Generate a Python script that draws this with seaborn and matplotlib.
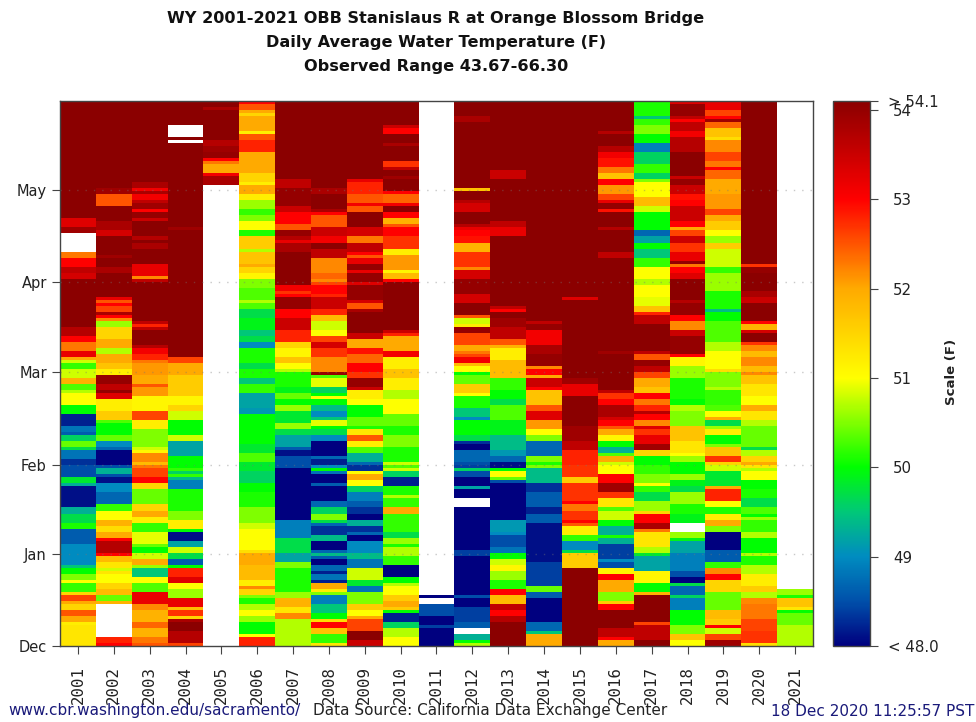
import numpy as np
import pandas as pd
import matplotlib
matplotlib.use("Agg")
import matplotlib.pyplot as plt
import matplotlib.transforms as mtrans
from matplotlib.colors import LinearSegmentedColormap
import seaborn as sns

N = float("nan")
D = 54.1

# Each list: (upper edge in days since Dec 1, temperature F) read top to bottom; N = no data
WY2001 = [(181,D),(142,53.3),(139,53.9),(137,N),(131,52.3),(129,53),(126,53.6),(124.5,53.4),(122,D),(106,53.7),(103,53),(101,52.3),(98,53.2),(96,52),(95,50.8),(94,50.2),(92,50.8),(89,51.9),(87,50.3),(85,50.7),(84,51),(80,50),(77,48.2),(73,48.8),(71,48.6),(69.5,49.6),(68,50.4),(66,49.7),(65,48.8),(62,48.3),(60,48.5),(55.5,49.8),(54,49.3),(53,48.1),(46,49.3),(44,49.7),(41,50.1),(39,48.6),(34,49),(27,49.5),(26,50),(24,50.5),(22,51),(21,50.2),(18.5,51.5),(17,52.6),(15,52),(14,51.5),(12,52.5),(10,52),(8,51.2),(7,51.3)]
WY2002 = [(181,D),(152,53.9),(150.4,52.5),(146,D),(141,53.8),(138,53.4),(136,D),(129.4,53.9),(128.6,D),(126,53.8),(124.5,D),(116,53.2),(115,52.5),(113.5,53),(113,52.6),(111,53.8),(110,53),(109,52.2),(108,50.6),(106,51.5),(102,52),(99,50.7),(97,52),(94,51.7),(92,51.2),(90,54),(87,53.6),(85,54),(84,53.3),(81.5,51.2),(77.6,51.6),(75,50.3),(73.5,50),(70.4,50.4),(68.4,49),(66.2,48.7),(64.7,48),(60.5,48.5),(58.6,49.3),(56.6,48.5),(55.7,48.1),(53.5,49),(51,48.7),(46.6,50.2),(44.7,51),(41.7,51.9),(39.8,51.4),(37.8,52),(36.2,53),(34.8,53.7),(31,53),(30,51.8),(28.4,51.3),(25.7,50.8),(24.8,51.3),(23.5,51),(20.7,51.5),(18.9,51.8),(17.4,50.4),(15.2,51.9),(14.1,N),(3.4,52.8),(1.4,53)]
WY2003 = [(181,D),(154.3,53.8),(152.4,53.1),(151,53.8),(149.7,53.1),(148.2,53.6),(147,53.9),(145.4,53),(143.5,54),(142.4,53.5),(140.7,D),(136.3,53.7),(134.4,D),(133.8,53.8),(131.6,D),(126.7,53.2),(122.8,52.2),(121.7,53.6),(120.6,D),(108.5,53.6),(107.4,52.8),(106,53.6),(104.9,D),(100.2,53.7),(98.6,53.1),(96.9,52.8),(95.3,52.3),(93.6,52.1),(89.7,52),(87,52.5),(86,52.1),(83.4,51.1),(78.2,52.6),(74.6,51.2),(72.4,50.5),(66.2,50.8),(64.5,51.1),(63.6,52.2),(61.3,51.8),(60,52.3),(58.6,52.6),(55.5,53),(54.2,51.5),(52.2,50.4),(46.6,51.5),(44.7,52),(42.8,51.2),(40.9,50.2),(37.8,50.9),(34.5,50.4),(32.8,50),(31,50.8),(29.2,52),(27.3,50.6),(26,49.5),(23,51),(21,50.3),(18.2,53.2),(14.1,52.2),(11.9,51.9),(8.3,52.4),(6.4,51.9),(3,52.3),(1.4,52.5)]
WY2004 = [(181,D),(173.3,N),(169.2,D),(168,N),(167.2,D),(138.4,53.9),(137.6,D),(96,52.6),(94.2,52),(90.3,51.6),(82.6,51.1),(80.1,51.5),(77.9,50.8),(75.4,50),(69.5,50.8),(68.2,49.2),(62.7,50),(58.3,50.2),(58.2,49.6),(57.2,50.2),(56,49.4),(54.6,48.9),(51.6,50.1),(45,50.5),(41.7,51.2),(38.9,50),(37.6,48.1),(35.1,49.2),(32.6,50.8),(30.7,49.7),(29,48.6),(27.3,50),(25.7,52.8),(23,53.3),(20.7,51),(18.9,50.6),(15.5,53.2),(13.4,51.8),(11.9,52.7),(10.3,51.5),(9.1,53.8),(8.3,D),(5.3,53.7),(1.4,52.6)]
WY2005 = [(181,D),(179.3,53.8),(178,D),(168,53.7),(165.8,53.9),(164.2,54),(162.5,53),(161.4,52.3),(160.3,52),(157.2,53.1),(155.9,53.8),(153.2,N)]
WY2006 = [(181,53),(179.7,52.5),(178,52),(177,51.5),(176,52),(171.4,51.2),(170,52.5),(168,52.8),(164,52),(157,51.5),(154.3,51.2),(153,52),(150.4,51.2),(147.6,50.6),(145.4,50.2),(143.2,50.5),(141.3,51),(137.7,50.1),(135.7,51.6),(132.2,50.7),(130.7,51.7),(127.4,52),(125.6,51.5),(123.9,51.1),(121.9,50.5),(119,50.3),(115.1,50.7),(113.5,50.3),(112.1,49.7),(109,49.9),(105.2,49.5),(103,49.7),(101.3,49),(99.1,50.1),(94.2,49.7),(92.5,50.1),(89,49.5),(87.2,50.2),(84.2,49.2),(79.3,49.1),(76.7,50),(66.6,49.8),(63.8,50.3),(61,49.8),(58.3,49.6),(53.8,50),(51,50.1),(45.5,50.5),(41,50.8),(38.9,51),(32.3,51.4),(30.7,52),(26.8,51.8),(21.8,51.2),(20.2,52.2),(18.9,51.5),(17.4,50.5),(15.5,50.1),(13.5,50.7),(11.9,51),(10.3,50.6),(8.3,50),(4.2,51),(3.3,52.8)]
WY2007 = [(181,D),(154.6,53.6),(151.5,54),(146.2,53.5),(143.5,53),(140.5,52.5),(138.5,54),(136,53.7),(134.7,53.2),(133.6,53.8),(130.7,D),(119.5,53.1),(117.3,52.7),(117,53),(115.7,54),(111.8,53),(108.8,53.5),(105.2,52.8),(100.8,51.5),(98.6,51.1),(95.8,51.7),(94.2,51),(92.3,50.7),(91.4,50.1),(85.9,49.9),(83.7,50.4),(82,50),(80.1,50.6),(77.6,49.8),(73.7,50.6),(72,49.7),(70.2,49.2),(66,48.6),(64.7,48.1),(62.7,48.5),(58.8,48),(42.4,48.9),(36.2,49.7),(31,49.2),(27.9,50.5),(25.7,50.1),(18,50.6),(16,51.9),(13,51.3),(10.8,52.2),(9.1,50.7)]
WY2008 = [(181,D),(152.4,53.8),(149.5,D),(145.4,53.8),(144.3,53),(142.6,52.5),(139.4,53.5),(136,53.1),(134.4,D),(131.6,53.6),(129.4,52.2),(123.9,52.4),(122.2,52.2),(121,52.6),(119.5,53),(117.3,52.8),(115.7,53.5),(112,52.8),(110.2,51.8),(108,50.8),(105.2,51),(103,52.6),(101.3,53.4),(98.6,52.7),(96,52.2),(91.2,54),(89.7,50.3),(88.6,50.9),(86.4,49.6),(84.2,50),(82.4,51),(81.5,50),(79.5,49.4),(77.9,49),(76.5,49.5),(75,50.9),(73.2,50),(71.5,49.7),(69.9,49),(68.2,48),(63.3,48.7),(62.1,48.2),(60,49),(58.6,50),(57.2,48.8),(56.6,48),(53.8,48.6),(52.7,48),(47.8,48.7),(46,49.6),(44.4,50.5),(42.4,49.7),(40.6,48.7),(39.5,48.3),(36.7,49.4),(34.8,48),(32.1,48.7),(30.7,49.4),(29.8,48.6),(29.2,48),(27,48.7),(25.4,48.2),(24.4,48.8),(22.2,48.2),(21,52),(18.9,51.2),(18,50.5),(17,48.9),(13.6,49.5),(11.1,50),(9.1,51.4),(8.3,53),(5.5,51.7),(3.6,50.2),(1.4,51.3)]
WY2009 = [(181,D),(154.6,53.2),(153.5,52.8),(150.4,52.5),(147.3,53.1),(145.8,52.5),(143.5,D),(139.2,53.4),(136.5,52.3),(134.4,53.6),(131,53),(129.4,52.5),(128.6,53.2),(126.8,54),(125.4,53.2),(123.9,54),(120.6,53.3),(119.8,54),(114.6,53.4),(113.7,52.5),(112.1,53.8),(111,D),(103.5,53.5),(101.5,52),(98.9,52.9),(96.9,52.4),(94.2,53),(91.4,52.7),(89.2,54),(86.1,53.5),(84.8,51.2),(82.4,51),(79.8,50),(76.5,50.4),(72.6,50.1),(71.5,51.3),(70.2,52.5),(68,51.2),(66,50.3),(63.8,49.3),(60.7,48.7),(59.9,48.3),(57.7,51),(56.6,52),(55,51),(53,49.6),(51,48.9),(47.8,48.6),(45.5,48.3),(43.5,48),(41.7,49.3),(39.5,48.3),(37.8,48.7),(36.7,48),(34.8,49),(30.7,49.4),(29,48.8),(26,50.8),(22.2,49.8),(20.2,48.8),(18.2,50.5),(14.1,51.6),(11.9,51),(10.3,52),(8.6,52.6),(5.3,D),(2.3,53.5)]
WY2010 = [(181,D),(173.3,53.5),(171.9,53),(170,D),(167.1,53.8),(166,D),(161.4,52.7),(159.4,53.6),(158.1,D),(156.1,53.9),(155.3,D),(151,53),(149.9,52.4),(147.3,53.1),(146,D),(143.5,53),(142.4,51.9),(140.5,52.5),(139.4,53),(136,52.7),(132.5,51.2),(130.5,52.1),(125,51.1),(123.7,51.8),(121.9,53),(120.6,D),(104.9,53.5),(103.8,52.8),(103,52),(98.2,53.1),(95.6,51.2),(92,51.7),(88.7,51.2),(85,50.7),(82,51),(77.3,50.4),(73.2,50.1),(69.5,50.5),(66.2,50.1),(61.3,50.8),(60.3,50.3),(58.8,50.8),(57.5,49.6),(55.7,48.2),(52.7,50.1),(50,50.7),(49.4,50.2),(45.5,52),(43.5,50.2),(37.8,49.7),(36.2,50.6),(34,50.1),(32.8,50.7),(29.7,50.2),(27,48),(23,50),(21,50.7),(19.6,51),(17.4,51.6),(15.2,52),(12.5,51.6),(11.9,50),(10.8,48.2),(8.3,49.6),(6,50.7),(3.4,51)]
WY2011 = [(181,N),(16.1,48),(15.5,N),(14.1,48.5),(10.3,48),(7,48.4),(6,48)]
WY2012 = [(181,D),(176,53.8),(174.1,D),(152.4,51.7),(151.2,D),(148.2,53.7),(147.3,53.4),(144.3,D),(140.5,53.7),(138.8,53.2),(137.7,53),(136,52.9),(134.4,51.9),(131,52.7),(125.6,52.2),(124.8,53.4),(121.9,54),(117,53.4),(113.7,D),(110.2,52.5),(108.8,50.8),(107.4,51.2),(106,54),(104.1,52.6),(100.2,52),(98.2,52.3),(97.4,51),(96,52.6),(95.5,53.1),(94.2,51.8),(93,51),(91.2,50),(89.7,50.4),(87,51.6),(83.7,51),(83,50.1),(79.3,49.5),(76.5,49),(75.4,50),(69.9,49.7),(68.2,48.3),(66.6,48),(64.6,48.7),(60.5,48.5),(59.9,48.4),(58.6,49.6),(57.5,48.5),(55.7,48),(52.7,49.2),(51.6,48),(48.6,N),(45.8,48),(32.3,48.4),(30.2,48),(16.4,48.5),(15.5,48),(13,48.4),(8,48.6),(5.6,N),(4.2,49.3),(2.5,50),(1.4,50.7)]
WY2013 = [(181,D),(157.6,53.5),(155,D),(141.3,53.6),(138.8,53.2),(135.8,D),(113.3,53.6),(112.4,53),(110.7,D),(108.8,53.9),(106.3,53.6),(101.5,52.5),(100.2,51.9),(98.6,51.2),(95,51.8),(89.2,50.2),(84.8,50),(82,49.7),(80.1,50.3),(74.8,49.9),(70.4,49.4),(64.9,49.1),(62.7,48.7),(61,48.1),(58.3,48.3),(58.2,50),(57.5,51),(55.7,50.4),(54.4,48.5),(53.8,48),(41.7,49.1),(38.4,49),(36.7,48.5),(32.8,48.8),(30.7,50),(29,50.8),(27,51.1),(25,50.6),(22,50.1),(19,53),(17,51.8),(14.1,53.6),(12.2,53),(10,53.7),(8.3,D)]
WY2014 = [(181,D),(108.5,53.6),(106.8,54),(104.9,53.1),(100.2,53.8),(96.9,54),(93.4,52.2),(92,53),(89.7,52),(89.2,53.5),(86.1,53),(84.8,51.7),(79.8,52.5),(78,53.3),(75,52.1),(71.5,51),(70.2,50.5),(67.7,48.7),(62.7,50.5),(61,50.1),(60,50.5),(58.6,49.4),(54.4,48.3),(50.9,48.6),(45.5,48.2),(43.5,48.6),(40.6,48.1),(27.9,48.4),(20.2,50.4),(18,48.6),(16.4,48),(8,48.7),(5.3,49.5),(4.2,52)]
WY2015 = [(181,D),(115.7,53.3),(114.9,D),(89.2,53.9),(87,53.2),(83.4,D),(73.2,53.9),(68.2,53.6),(64.7,52.8),(60,52.7),(56,51.6),(53.8,52.7),(48.3,53),(47.4,52.3),(45,52.7),(41.7,53),(41,52.5),(39.5,51.2),(37.3,50.2),(35,49),(32.3,49.7),(31,51.6),(25.5,D)]
WY2016 = [(181,D),(171.4,53.7),(169.7,D),(166.4,53.7),(164.2,53.1),(162.3,52.9),(159.4,52.3),(157.2,51.7),(155,53),(152.8,52.1),(150.4,52.6),(148.2,53.2),(147.3,54),(145.4,52.9),(143.5,D),(139.4,53.7),(138.5,D),(130.7,53.6),(129.4,D),(98,53.9),(97.1,D),(85,53.6),(83.7,52.7),(82.4,53),(79.8,53.8),(76.5,53.4),(74.8,53),(72.9,52.5),(71.5,52),(69.5,51.1),(67.7,50),(65.5,49.3),(63.6,50.3),(62.7,52),(61,50.8),(59.9,51),(56.6,53),(53.5,53.9),(50.8,52.7),(49,51.3),(46,50.3),(44.7,50.8),(42.2,50),(39.8,49.3),(36.7,50.1),(35.9,49.3),(34,48.4),(29,49),(27.9,48.5),(25.7,51.1),(23.7,53),(21.9,52),(18.5,50.5),(15.2,51.6),(13.8,53),(11.9,D),(6.2,53.6),(3.4,53),(2,52)]
WY2017 = [(181,50.1),(176,49.5),(174.7,50.2),(173.3,50.5),(169.7,50),(167,48.9),(164.2,49.6),(159.8,50.2),(157.2,49.6),(155.3,50.5),(154.2,51),(149.3,51.8),(146.2,50.8),(144.3,50),(137.7,48.7),(135.8,49.2),(134.4,50),(131.9,49.5),(128.9,50.2),(125.8,51),(122,50.7),(120,51),(115.7,50.9),(112.9,51.7),(110.7,52.8),(109.6,53.6),(107.4,D),(98.2,53.6),(96.9,52.5),(95.3,54),(93,53.6),(90.8,52.6),(89,52),(86.1,51.7),(84.2,53),(81.5,52.3),(80.1,52.8),(78.2,53.7),(77,53),(75.4,52.2),(72.6,53.3),(72,52.7),(70.4,53.2),(66.6,53.9),(64.7,51.5),(62.7,50),(59.9,50.2),(57,50.5),(54.4,51),(53.3,50.2),(51,49.7),(48.3,50.6),(45,51.5),(43.5,53),(41,53.8),(38.9,52.3),(37.5,51.3),(33.4,50.7),(31,49.8),(29.9,49.2),(24.6,51.1),(21,50),(18.5,51.9),(17.4,D),(8.3,52.6),(7,53.6),(2,D)]
WY2018 = [(181,53.3),(179.6,54),(176.3,53.6),(174.9,53),(173.8,53.6),(171.4,53.1),(169.2,53.7),(164.5,D),(156.1,53.5),(154.6,54),(153,53.5),(150.4,52.9),(148.4,53),(146.2,53.5),(141.3,53),(139.4,52),(137.7,52.6),(135.8,53.5),(133.8,52.7),(130.7,53.2),(128,54),(127.2,52.3),(126.2,53),(124.4,53.3),(121.9,D),(115,53.7),(113.7,54),(110.2,53),(108.5,52.2),(105.2,53.5),(103,54),(96.9,53),(96,51.1),(93.4,50.6),(88.6,50.1),(82.4,50),(80.1,50.7),(77.9,50.5),(72.6,51.7),(68.2,51.3),(64.4,51),(62.7,50.6),(60.7,50),(56.6,50.6),(54.6,49.9),(53,49.7),(51,50.6),(46.6,50.1),(43.5,49.9),(41,N),(37.6,50.6),(36.5,49.9),(35,49.2),(31,48.9),(25,48.5),(23,48),(21,49.7),(20.2,48.7),(17.1,49.6),(15.5,48.9),(11.9,50),(7,50.5),(4.2,51.7),(2,51)]
WY2019 = [(181,53.2),(178.2,52.6),(175.8,53),(174.5,53.9),(173.6,52.4),(171.9,51.7),(168.9,51.4),(167.5,52.2),(164.2,52.6),(161.4,52.3),(159.4,53),(158.1,52.4),(155.3,52),(150.4,52.1),(145.4,52.6),(143.2,52),(141.3,51.6),(137.7,51),(135.8,50.6),(134.4,51.6),(132,50.8),(126,50.2),(123.9,50.6),(118.4,50.1),(112.2,49.4),(110.7,50),(108.5,50.3),(101.3,50.7),(98.2,51),(92,51.4),(90.8,50.5),(86,50.7),(85,50.2),(79.8,50.3),(78,51),(76.5,52),(74.8,49.7),(72.4,50.6),(71.5,51.2),(70.4,50),(67.3,50.5),(66.3,51.7),(62.7,52.7),(61.3,51.5),(59.9,50.8),(57.7,49.8),(53,52),(51.6,52.8),(48.3,51),(46.4,50.1),(43.9,51.2),(42.2,52),(39.5,50.5),(37.6,48),(31.8,48.6),(27.9,50.2),(25.7,52.2),(23.5,53),(21.9,51.5),(18,50.4),(12.4,51.8),(8.6,51.6),(7,53),(6,50.8),(3.6,52.6),(1.5,53.9)]
WY2020 = [(181,D),(126.6,52.7),(125.7,54),(124.4,D),(117.9,53.8),(115.7,53.5),(114,D),(108,53),(107,51.9),(104.9,53.4),(104,D),(100.8,52.7),(100,52.2),(98,51.8),(96,52.2),(93,51.8),(90.8,52.2),(89.7,51.7),(87,51.3),(83,51),(79.8,52),(77.6,51.3),(74.8,50.7),(72.6,50.4),(66,49.7),(64.6,50.7),(62.7,51.5),(61,52),(59.9,51.3),(58.8,50.7),(57.7,51),(54.9,50),(51.6,50.1),(48.6,49.7),(46,50.3),(44.4,50),(42.8,50.6),(41.7,50.2),(37.8,50.7),(36.2,50),(31,50.7),(30,50.1),(27.4,50.7),(23.5,51.2),(20,51.6),(18.2,50.7),(15.5,52.2),(13.6,52.3),(8.6,52.6),(4.7,52.7),(1.4,51.4)]
WY2021 = [(181,N),(18.9,50.6),(17.4,50.1),(15.5,51.7),(13.4,51.3),(12,50),(10.8,50.4),(7.2,50.7)]

years = [str(y) for y in range(2001, 2022)]
year_runs = [WY2001, WY2002, WY2003, WY2004, WY2005, WY2006, WY2007, WY2008, WY2009, WY2010, WY2011,
             WY2012, WY2013, WY2014, WY2015, WY2016, WY2017, WY2018, WY2019, WY2020, WY2021]
months = ["Dec", "Jan", "Feb", "Mar", "Apr", "May"]
month_days = [0, 30.6, 60.1, 91, 121, 151.5]
scale_ticks = [48, 49, 50, 51, 52, 53, 54, 54.1]
scale_labels = ["< 48.0", "49", "50", "51", "52", "53", "54", "> 54.1"]
title_lines = ["WY 2001-2021 OBB Stanislaus R at Orange Blossom Bridge",
               "Daily Average Water Temperature (F)",
               "Observed Range 43.67-66.30"]
N_DAYS = 181


def daily(runs):
    a = np.full(N_DAYS, np.nan)
    for i, (top, val) in enumerate(runs):
        low = runs[i + 1][0] if i + 1 < len(runs) else 0
        lo, hi = int(round(low)), int(round(top))
        if hi <= lo:
            hi = lo + 1
        a[lo:min(hi, N_DAYS)] = val
    return a


table = pd.DataFrame({y: daily(r) for y, r in zip(years, year_runs)}, index=range(N_DAYS))

stops = [(48, "#00007f"), (48.5, "#0050aa"), (49, "#008cc0"), (49.5, "#00c878"), (50, "#00ff00"),
         (50.5, "#80ff00"), (51, "#ffff00"), (52, "#ffaa00"), (53, "#ff0000"), (54.1, "#8b0000")]
span = stops[-1][0] - stops[0][0]
cmap = LinearSegmentedColormap.from_list("temp", [((v - 48) / span, c) for v, c in stops], N=512)

W, H = 976, 722
fig = plt.figure(figsize=(W / 100, H / 100), dpi=100)
ax = fig.add_axes([60 / W, 1 - 646 / H, 753 / W, 545 / H])
cax = fig.add_axes([833 / W, 1 - 646 / H, 37 / W, 545 / H])

sns.heatmap(table, ax=ax, cbar_ax=cax, cmap=cmap, vmin=48, vmax=54.1,
            xticklabels=years, yticklabels=False)
ax.set_ylim(0, N_DAYS)
ax.set_xlabel("")
ax.set_ylabel("")

edge = "#444444"
ax.set_yticks(month_days)
ax.set_yticklabels(months, fontsize=10.5, color="#222222")
ax.tick_params(axis="y", length=5.5, width=0.8, color=edge, pad=4, left=True)
ax.tick_params(axis="x", length=5.5, width=0.8, color=edge, pad=9)
for lab in ax.get_xticklabels():
    lab.set_rotation(90)
    lab.set_family("DejaVu Sans Mono")
    lab.set_fontsize(11.3)
    lab.set_color("#222222")
ax.hlines(month_days[1:], 0, 21, colors="#777777", linestyles=(0, (1, 5)), linewidth=1, alpha=0.4)
for s in ax.spines.values():
    s.set_visible(True)
    s.set_color(edge)
    s.set_linewidth(1)

cbar = ax.collections[0].colorbar
cbar.set_ticks(scale_ticks)
cbar.set_ticklabels(scale_labels)
cax.tick_params(length=5.5, width=0.8, color=edge, labelsize=10.8, labelcolor="#222222", pad=11)
cbar.outline.set_visible(True)
cbar.outline.set_edgecolor(edge)
cbar.outline.set_linewidth(1)
shift = mtrans.ScaledTranslation(-5 / 100, 0, fig.dpi_scale_trans)
for lab, txt in zip(cax.get_yticklabels(), scale_labels):
    if txt[0] in "<>":
        lab.set_transform(lab.get_transform() + shift)

fig.text(952 / W, 1 - 372 / H, "Scale (F)", rotation=90, ha="center", va="center",
         fontsize=9.5, fontweight="bold", color="#222222")

for txt, y in zip(title_lines, [18, 43, 67]):
    fig.text(436 / W, 1 - y / H, txt, ha="center", va="center", fontsize=11.6, fontweight="bold", color="#111111")

fig.text(8 / W, 1 - 711 / H, "www.cbr.washington.edu/sacramento/", ha="left", va="center", fontsize=11, color="#1a1a7a")
fig.text(313 / W, 1 - 711 / H, "Data Source: California Data Exchange Center", ha="left", va="center", fontsize=11, color="#222222")
fig.text(974 / W, 1 - 711 / H, "18 Dec 2020 11:25:57 PST", ha="right", va="center", fontsize=11, color="#1a1a7a")

fig.savefig("out.png", dpi=100)
